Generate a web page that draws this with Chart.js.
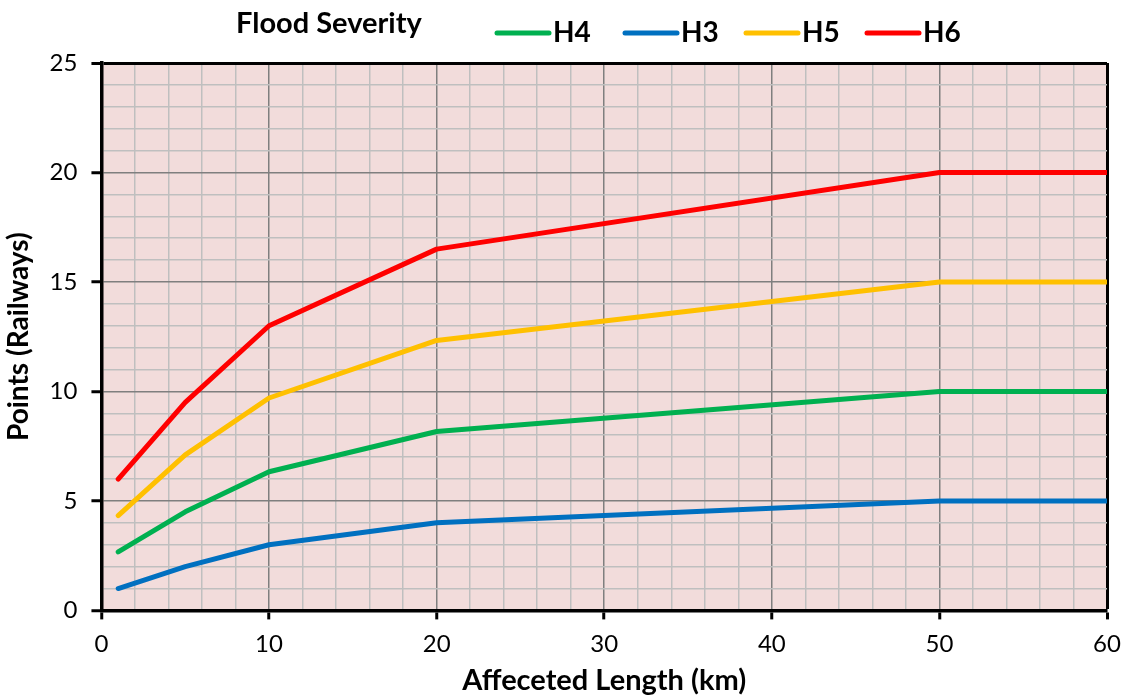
<!DOCTYPE html>
<html>
<head>
<meta charset="utf-8">
<script src="https://cdn.jsdelivr.net/npm/chart.js@4/dist/chart.umd.min.js"></script>
<style>
  html, body { margin: 0; padding: 0; background: #fff; }
  #wrap { width: 1126px; height: 698px; }
</style>
</head>
<body>
<div id="wrap"><canvas id="c" width="1126" height="698"></canvas></div>
<script>
// data
const lengthsKm = [1, 5, 10, 20, 50, 60];
const h3 = [1, 2, 3, 4, 5, 5];
const h4 = [2.67, 4.5, 6.33, 8.17, 10, 10];
const h5 = [4.33, 7.1, 9.7, 12.33, 15, 15];
const h6 = [6, 9.5, 13, 16.5, 20, 20];
const xTickLabels = [0, 10, 20, 30, 40, 50, 60];
const yTickLabels = [0, 5, 10, 15, 20, 25];
const legendTitle = "Flood Severity";

const FONT = "Lato, 'Open Sans', sans-serif";

function pts(ys) {
  return lengthsKm.map((x, i) => ({ x: x, y: ys[i] }));
}

function mkSet(label, ys, color) {
  return {
    label: label,
    data: pts(ys),
    borderColor: color,
    backgroundColor: color,
    borderWidth: 5,
    borderCapStyle: "round",
    borderJoinStyle: "round",
    pointRadius: 0,
    tension: 0
  };
}

// pink plot area
const plotBg = {
  id: "plotBg",
  beforeDraw(chart) {
    const a = chart.chartArea, ctx = chart.ctx;
    ctx.save();
    ctx.fillStyle = "#F2DCDB";
    ctx.fillRect(a.left, a.top, a.right - a.left, a.bottom - a.top);
    ctx.restore();
  }
};

// legend drawn by hand so the title sits on the same row
const topLegend = {
  id: "topLegend",
  afterDraw(chart) {
    const ctx = chart.ctx;
    ctx.save();
    ctx.fillStyle = "#000";
    ctx.textBaseline = "middle";
    ctx.font = "bold 29px " + FONT;
    ctx.fillText(legendTitle, 236, 24);
    const xs = [497, 625, 746, 867];
    chart.data.datasets.forEach((ds, i) => {
      const x = xs[i];
      ctx.strokeStyle = ds.borderColor;
      ctx.lineWidth = 5;
      ctx.lineCap = "round";
      ctx.beginPath();
      ctx.moveTo(x, 33);
      ctx.lineTo(x + 52, 33);
      ctx.stroke();
      ctx.fillStyle = "#000";
      ctx.font = "bold 28px " + FONT;
      ctx.fillText(ds.label, x + 56, 33);
    });
    ctx.restore();
  }
};

const isMajor = (list, v) => list.includes(v);

new Chart(document.getElementById("c"), {
  type: "line",
  data: {
    datasets: [
      mkSet("H4", h4, "#00B050"),
      mkSet("H3", h3, "#0070C0"),
      mkSet("H5", h5, "#FFC000"),
      mkSet("H6", h6, "#FF0000")
    ]
  },
  options: {
    responsive: false,
    animation: false,
    layout: { padding: { top: 63, right: 3, left: 2, bottom: 0 } },
    plugins: {
      legend: { display: false },
      tooltip: { enabled: false }
    },
    scales: {
      x: {
        type: "linear",
        min: 0,
        max: 60,
        afterFit: s => { s.paddingRight = 19; },
        ticks: {
          stepSize: 2,
          autoSkip: false,
          maxRotation: 0,
          color: "#000",
          font: { family: FONT, size: 24 },
          padding: 10,
          callback: v => isMajor(xTickLabels, v) ? String(v) : ""
        },
        grid: {
          color: c => c.tick.value === 60 ? "#000" : (isMajor(xTickLabels, c.tick.value) ? "#7F7F7F" : "#BFBFBF"),
          lineWidth: c => c.tick.value === 60 ? 3 : 1.5,
          tickLength: 9,
          tickColor: c => isMajor(xTickLabels, c.tick.value) ? "#000" : "rgba(0,0,0,0)",
          tickWidth: 3
        },
        border: { color: "#000", width: 3.5 },
        title: {
          display: true,
          text: "Affeceted Length (km)",
          color: "#000",
          font: { family: FONT, size: 29, weight: "bold" },
          padding: { top: -5, bottom: 0 }
        }
      },
      y: {
        min: 0,
        max: 25,
        ticks: {
          stepSize: 1,
          autoSkip: false,
          color: "#000",
          font: { family: FONT, size: 24 },
          padding: 14,
          callback: v => isMajor(yTickLabels, v) ? String(v) : ""
        },
        grid: {
          color: c => c.tick.value === 25 ? "#000" : (isMajor(yTickLabels, c.tick.value) ? "#7F7F7F" : "#BFBFBF"),
          lineWidth: c => c.tick.value === 25 ? 3 : 1.5,
          tickLength: 10,
          tickColor: c => isMajor(yTickLabels, c.tick.value) ? "#000" : "rgba(0,0,0,0)",
          tickWidth: 3
        },
        border: { color: "#000", width: 3.5 },
        title: {
          display: true,
          text: "Points (Railways)",
          color: "#000",
          font: { family: FONT, size: 28, weight: "bold" },
          padding: { top: 0, bottom: 0 }
        }
      }
    }
  },
  plugins: [plotBg, topLegend]
});
</script>
</body>
</html>
